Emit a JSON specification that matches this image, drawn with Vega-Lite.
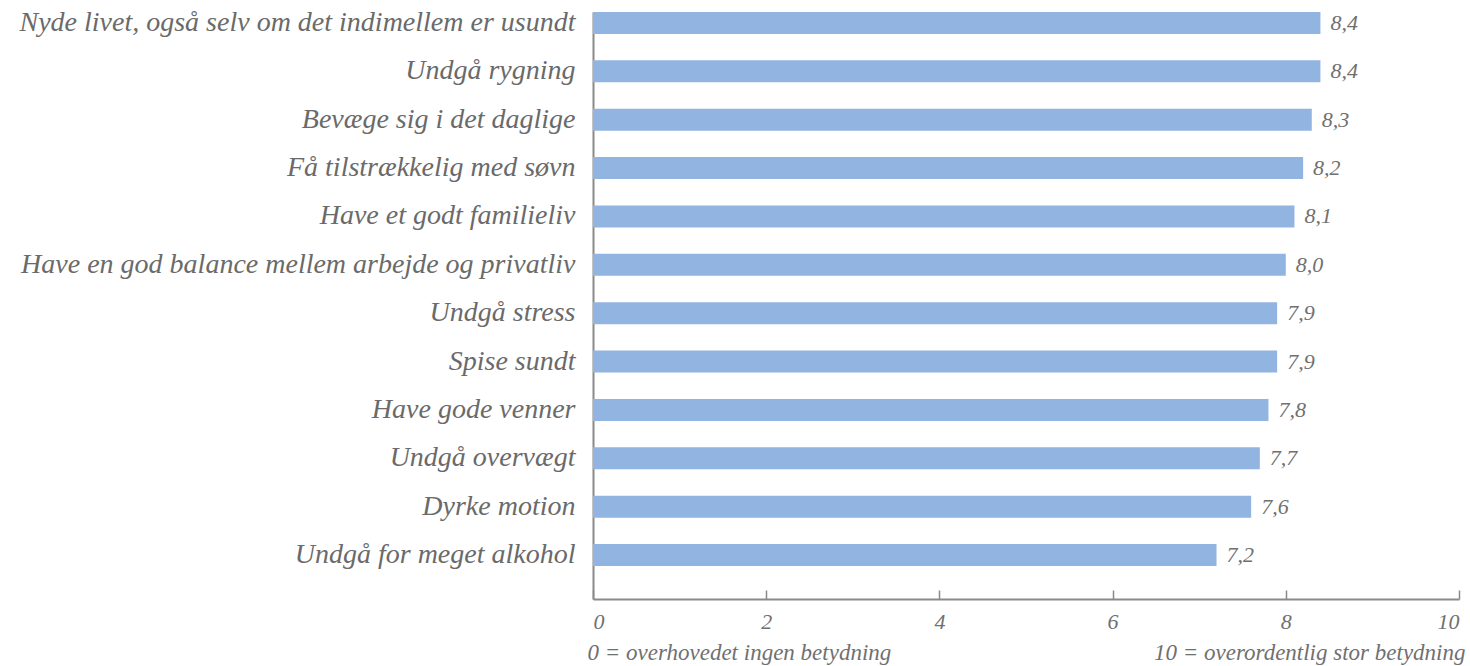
{
  "$schema": "https://vega.github.io/schema/vega-lite/v6.json",
  "width": 866,
  "height": 587,
  "autosize": {"type": "none"},
  "padding": {"left": 593, "top": 12, "right": 11, "bottom": 67},
  "background": "white",
  "config": {
    "view": {"stroke": null},
    "locale": {"number": {"decimal": ",", "thousands": ".", "grouping": [3], "currency": ["", " kr."]}},
    "axis": {"labelFont": "Liberation Serif", "titleFont": "Liberation Serif", "labelFontStyle": "italic", "titleFontStyle": "italic", "labelColor": "#707070", "titleColor": "#707070", "grid": false}
  },
  "data": {
    "values": [
      {"item": "Nyde livet, også selv om det indimellem er usundt", "score": 8.4},
      {"item": "Undgå rygning", "score": 8.4},
      {"item": "Bevæge sig i det daglige", "score": 8.3},
      {"item": "Få tilstrækkelig med søvn", "score": 8.2},
      {"item": "Have et godt familieliv", "score": 8.1},
      {"item": "Have en god balance mellem arbejde og privatliv", "score": 8.0},
      {"item": "Undgå stress", "score": 7.9},
      {"item": "Spise sundt", "score": 7.9},
      {"item": "Have gode venner", "score": 7.8},
      {"item": "Undgå overvægt", "score": 7.7},
      {"item": "Dyrke motion", "score": 7.6},
      {"item": "Undgå for meget alkohol", "score": 7.2}
    ]
  },
  "encoding": {
    "y": {
      "field": "item", "type": "nominal", "sort": null,
      "scale": {"paddingInner": 0.545, "paddingOuter": 0.341, "align": 0},
      "axis": {"title": null, "ticks": false, "domain": true, "domainColor": "#8a8a8a", "domainWidth": 2, "labelPadding": 18, "labelFontSize": 28, "labelColor": "#6a6a6a", "labelLimit": 0}
    }
  },
  "layer": [
    {
      "mark": {"type": "bar", "color": "#92b4e0"},
      "encoding": {
        "x": {
          "field": "score", "type": "quantitative",
          "scale": {"domain": [0, 10], "nice": false},
          "axis": {
            "values": [0, 2, 4, 6, 8, 10], "format": "d",
            "domainColor": "#8a8a8a", "domainWidth": 2, "tickColor": "#8a8a8a", "tickWidth": 1.5, "tickSize": -9,
            "labelFontSize": 22, "labelPadding": 21,
            "title": "0 = overhovedet ingen betydning", "titleAnchor": "start", "titleX": -6, "titleAlign": "left", "titleFontSize": 23, "titleFontWeight": "normal", "titlePadding": 9
          }
        }
      }
    },
    {
      "mark": {"type": "text", "align": "left", "dx": 10, "font": "Liberation Serif", "fontStyle": "italic", "fontSize": 22, "color": "#707070"},
      "encoding": {
        "x": {
          "field": "score", "type": "quantitative",
          "axis": {
            "orient": "bottom", "labels": false, "ticks": false, "domain": false,
            "title": "10 = overordentlig stor betydning", "titleAnchor": "end", "titleX": 872, "titleAlign": "right", "titleFontSize": 23, "titleFontWeight": "normal", "titlePadding": 42
          }
        },
        "text": {"field": "score", "type": "quantitative", "format": ".1f"}
      }
    }
  ],
  "resolve": {"axis": {"x": "independent"}}
}
